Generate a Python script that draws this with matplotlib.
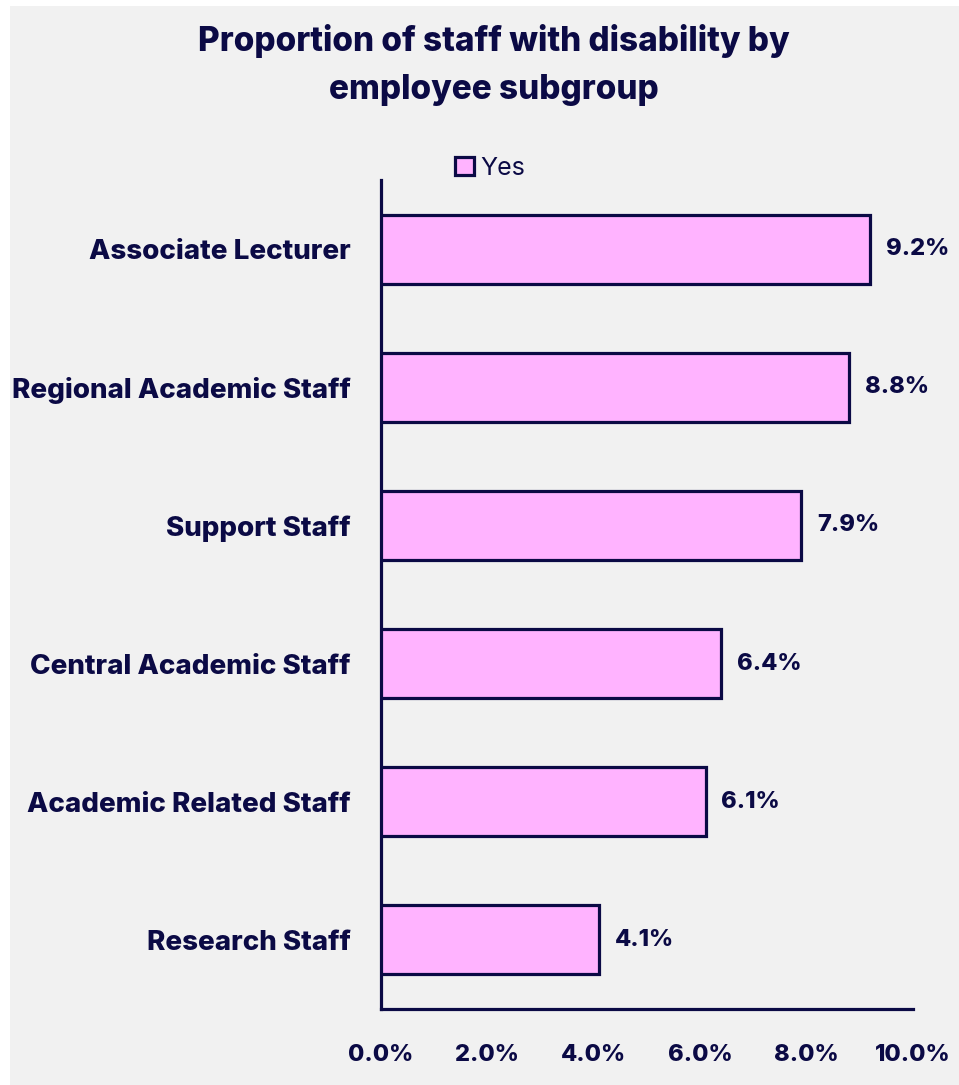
import matplotlib
matplotlib.use("Agg")
import matplotlib.pyplot as plt
from matplotlib.patches import Rectangle
from matplotlib.ticker import FuncFormatter

# Data
categories = ["Associate Lecturer", "Regional Academic Staff", "Support Staff",
              "Central Academic Staff", "Academic Related Staff", "Research Staff"]
values = [9.2, 8.8, 7.9, 6.4, 6.1, 4.1]
x_ticks = [0, 2, 4, 6, 8, 10]
series_name = "Yes"
title = "Proportion of staff with disability by\nemployee subgroup"

NAVY = "#0b0a45"
PINK = "#ffb3ff"
BG = "#f1f1f1"
FONT = "Inter"
HEAVY = 800

plt.rcParams["font.family"] = [FONT, "DejaVu Sans"]

fig = plt.figure(figsize=(9.59, 10.85), dpi=100)
fig.patch.set_facecolor("white")
fig.patches.append(Rectangle((10 / 959, 0), 1 - 10 / 959, 1 - 6 / 1085,
                             transform=fig.transFigure, facecolor=BG,
                             edgecolor="none", zorder=-10))

ax = fig.add_axes([381 / 959, 1 - 1009 / 1085, 532 / 959, 829 / 1085])
ax.set_facecolor(BG)

ypos = list(range(len(categories)))
ax.barh(ypos, values, height=0.5, color=PINK, edgecolor=NAVY, linewidth=2.3,
        label=series_name, zorder=3)
for y, v in zip(ypos, values):
    ax.text(v + 0.3, y, f"{v:.1f}%", va="center", ha="left", fontsize=17,
            fontweight=HEAVY, color=NAVY)

ax.set_ylim(len(categories) - 0.5, -0.5)
ax.set_xlim(0, 10)
ax.set_yticks(ypos)
ax.set_yticklabels(categories, fontsize=20, fontweight=HEAVY, color=NAVY)
ax.set_xticks(x_ticks)
ax.xaxis.set_major_formatter(FuncFormatter(lambda v, p: f"{v:.1f}%"))
for lbl in ax.get_xticklabels():
    lbl.set_fontsize(17)
    lbl.set_fontweight(HEAVY)
    lbl.set_color(NAVY)
ax.tick_params(axis="x", length=0, pad=25)
ax.tick_params(axis="y", length=0, pad=22)

for s in ["top", "right"]:
    ax.spines[s].set_visible(False)
for s in ["left", "bottom"]:
    ax.spines[s].set_color(NAVY)
    ax.spines[s].set_linewidth(2.3)

leg = ax.legend(loc="lower left", bbox_to_anchor=(74 / 532, 1.0), frameon=False,
                fontsize=18, handlelength=0.75, handleheight=0.75,
                handletextpad=0.25, borderaxespad=0, borderpad=0.0,
                labelcolor=NAVY)

fig.text(494 / 959, 1 - 65 / 1085, title, ha="center", va="center",
         fontsize=24, fontweight=HEAVY, color=NAVY, linespacing=1.65)

fig.savefig("out.png", dpi=100, facecolor=fig.get_facecolor())
